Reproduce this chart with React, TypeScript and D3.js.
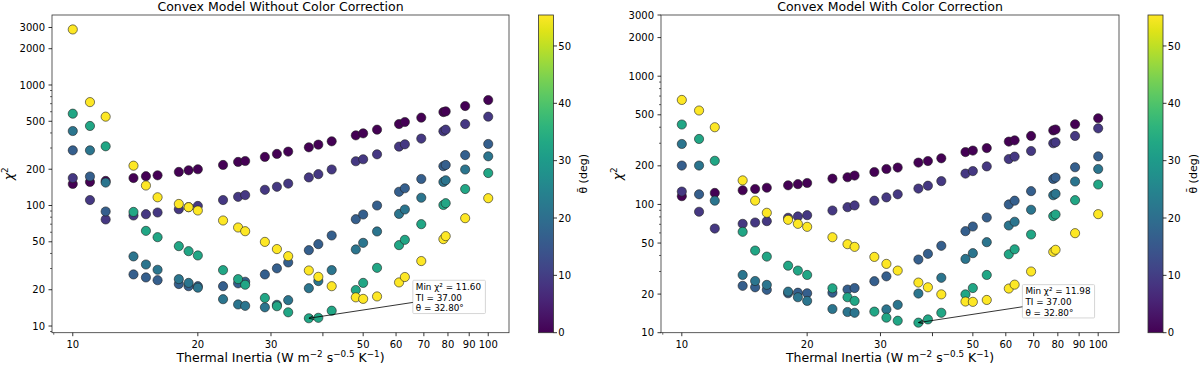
import React, { useRef, useEffect } from 'react';
import * as d3 from 'd3';

// Thermal inertia grid (W m^-2 s^-0.5 K^-1)
const TI = [10, 11, 12, 14, 15, 16, 18, 19, 20, 23, 25, 26, 29, 31, 33, 37, 39, 42, 48, 50, 54, 61, 63, 69, 78, 79, 88, 100];

// mean obliquity of each run (deg)
const THETAS = [0, 9, 16.5, 21.5, 32.8, 55.4];

// chi^2 without color correction, one array per theta
const woTheta0 = [151, 157, 160, 169, 175, 178, 190, 196, 200, 217, 230, 234, 253, 268, 280, 304, 320, 341, 382, 397, 426, 474, 493, 536, 596, 604, 669, 750];
const woTheta9 = [169, 111, 76.6, 82.6, 84.7, 87.5, 93.2, 97, 99.2, 111, 118, 122, 135, 143, 152, 171, 182, 199, 233, 242, 266, 308, 322, 359, 413, 426, 474, 546];
const woTheta16 = [287, 174, 89.2, 26.8, 25.3, 24.0, 22.3, 21.4, 21.4, 21.4, 22.6, 23.3, 26.8, 30.1, 33.7, 42.6, 47.8, 56.4, 77.0, 84.2, 100, 130, 139, 166, 212, 217, 262, 324];
const woTheta21 = [415, 287, 155, 37.8, 32.4, 29.3, 24.5, 22.8, 20.8, 16.7, 15.1, 14.7, 14.3, 15.0, 16.4, 20.6, 23.6, 29.1, 43.2, 49.0, 60.9, 85.2, 92.7, 116, 157, 162, 199, 256];
const woTheta33 = [578, 457, 310, 88.5, 61.6, 54.6, 46.0, 41.8, 38.5, 29.1, 24.5, 22.0, 17.1, 14.6, 13.0, 11.6, 11.7, 13.4, 19.9, 22.8, 30.4, 46.9, 51.9, 70.0, 101, 104.5, 137, 186];
const woTheta55 = [2890, 721, 546, 214, 146.5, 117, 103, 96.8, 90.9, 75.1, 65.7, 61.2, 49.9, 43.5, 38.0, 28.9, 25.6, 21.4, 17.3, 16.8, 17.6, 23.0, 25.5, 34.6, 52.6, 55.7, 78.5, 115];

// chi^2 with color correction (null = hidden under another marker)
const wcTheta0 = [116, null, 123, 129, 132, 135, 141, 144, 147, 159, 163, 168, 179, 189, 194, 212, 218, 229, 256, 263, 275, 309, 316, 342, 378, 384, 422, 470];
const wcTheta9 = [126, 87.7, 64.9, 70.6, 72.3, 74.1, 78.7, 80.6, 82.5, 89.7, 95.2, 98.2, 107, 113.5, 120, 133, 140, 152, 174, 182, 198, 226, 236, 261, 300, 305, 342, 392];
const wcTheta16 = [201, 120, null, 23.2, 22.6, 21.6, 20.3, 20.5, 20.3, 20.5, 21.7, 22.3, 25.2, 27.5, null, 37.2, 41.2, 47.6, 61.9, 67.3, 79.1, 100, 107, 127, 158, 162, 195, 237];
const wcTheta21 = [296, 201, 107, 28.2, 25.3, 23.6, 20.9, 18.9, 17.7, 15.3, 14.5, 14.3, null, 15.2, 16.5, 20.2, null, 26.8, 37.6, 41.7, 50.8, 68.5, 73.3, 90.9, 118, 121, 151, 189];
const wcTheta33 = [420, 324, 219, 61.2, 43.7, 39.2, 33.3, 30.5, 28.2, 22.2, 18.9, 17.7, 14.6, 13.1, 12.4, 11.98, 12.7, 14.3, 19.9, 22.3, 28.2, 40.9, 44.7, 58.3, 81.1, 83.5, 108, 143];
const wcTheta55 = [653, 540, 400, 154, 107, 86.1, 75.9, 70.6, 66.9, 55.5, 49.0, 46.7, 39.0, 34.4, 30.5, 24.6, 22.6, 19.9, 17.5, 17.4, 18.0, 22.1, 23.7, 30.0, 42.7, 44.3, 59.7, 84.0];

const X_TICKS = [10, 20, 30, 40, 50, 60, 70, 80, 90, 100];
const X_LABELED = [10, 20, 30, 50, 60, 70, 80, 90, 100];
const Y_TICKS = [10, 20, 50, 100, 200, 500, 1000, 2000, 3000];
const CB_TICKS = [0, 10, 20, 30, 40, 50];

const PANELS = [
  {
    title: 'Convex Model Without Color Correction',
    series: [woTheta0, woTheta9, woTheta16, woTheta21, woTheta33, woTheta55],
    yFixed: null,
    left: 52, right: 509, cbLeft: 538.5,
  },
  {
    title: 'Convex Model With Color Correction',
    series: [wcTheta0, wcTheta9, wcTheta16, wcTheta21, wcTheta33, wcTheta55],
    yFixed: [10, 3000],
    left: 661, right: 1119, cbLeft: 1148,
  },
];

const TOP = 15;
const BOTTOM = 332.7;
const FONT = 'DejaVu Sans';

// matplotlib-like 5% margin in log space
function logPad(lo: number, hi: number) {
  const a = Math.log10(lo), b = Math.log10(hi);
  const m = (b - a) * 0.05;
  return [10 ** (a - m), 10 ** (b + m)];
}

const App = () => {
  const svgRef = useRef<SVGSVGElement>(null);

  useEffect(() => {
    const svg = d3.select(svgRef.current);
    svg.selectAll('*').remove();
    const defs = svg.append('defs');

    const thetaExtent = d3.extent(THETAS) as [number, number];
    const color = d3.scaleSequential(d3.interpolateViridis).domain(thetaExtent);

    defs.append('marker')
      .attr('id', 'arrowhead')
      .attr('viewBox', '0 -5 10 10')
      .attr('refX', 10)
      .attr('refY', 0)
      .attr('markerWidth', 5)
      .attr('markerHeight', 5)
      .attr('markerUnits', 'userSpaceOnUse')
      .attr('orient', 'auto')
      .append('path')
      .attr('d', 'M0,-4L10,0L0,4')
      .attr('fill', 'none')
      .attr('stroke', '#000')
      .attr('stroke-width', 1.4);

    PANELS.forEach((p, pi) => {
      const g = svg.append('g');

      const x = d3.scaleLog().domain(logPad(d3.min(TI)!, d3.max(TI)!)).range([p.left, p.right]);
      const allVals = p.series.flat().filter(v => v != null) as number[];
      const yDom = p.yFixed ?? logPad(d3.min(allVals)!, d3.max(allVals)!);
      const y = d3.scaleLog().domain(yDom).range([BOTTOM, TOP]);

      // points
      p.series.forEach((vals, si) => {
        const pts = TI.map((t, i) => ({ t, v: vals[i] })).filter(d => d.v != null) as { t: number; v: number }[];
        g.append('g')
          .selectAll('circle')
          .data(pts)
          .join('circle')
          .attr('cx', d => x(d.t))
          .attr('cy', d => y(d.v))
          .attr('r', 4.6)
          .attr('fill', color(THETAS[si]))
          .attr('stroke', '#222')
          .attr('stroke-width', 0.6);
      });

      // frame
      g.append('rect')
        .attr('x', p.left).attr('y', TOP)
        .attr('width', p.right - p.left).attr('height', BOTTOM - TOP)
        .attr('fill', 'none').attr('stroke', '#333').attr('stroke-width', 0.8);

      // x ticks
      const [xd0, xd1] = x.domain();
      const xMinor = [9].filter(v => v >= xd0 && v <= xd1);
      X_TICKS.forEach(t => {
        g.append('line').attr('x1', x(t)).attr('x2', x(t)).attr('y1', BOTTOM).attr('y2', BOTTOM + 3.5)
          .attr('stroke', '#000').attr('stroke-width', 0.8);
      });
      xMinor.forEach(t => {
        g.append('line').attr('x1', x(t)).attr('x2', x(t)).attr('y1', BOTTOM).attr('y2', BOTTOM + 2)
          .attr('stroke', '#000').attr('stroke-width', 0.6);
      });
      X_LABELED.forEach(t => {
        g.append('text').attr('x', x(t)).attr('y', BOTTOM + 15.3)
          .attr('text-anchor', 'middle').attr('font-size', 10).attr('font-family', FONT)
          .text(t);
      });

      // y ticks
      const [yd0, yd1] = y.domain();
      const yMinor: number[] = [];
      [1, 10, 100, 1000].forEach(dec => {
        for (let k = 2; k <= 9; k++) {
          const v = k * dec;
          if (v >= yd0 * 0.999 && v <= yd1 * 1.001 && !Y_TICKS.includes(v)) yMinor.push(v);
        }
      });
      Y_TICKS.forEach(t => {
        g.append('line').attr('x1', p.left - 3.5).attr('x2', p.left).attr('y1', y(t)).attr('y2', y(t))
          .attr('stroke', '#000').attr('stroke-width', 0.8);
        g.append('text').attr('x', p.left - 7).attr('y', y(t)).attr('dy', '0.36em')
          .attr('text-anchor', 'end').attr('font-size', 10).attr('font-family', FONT)
          .text(t);
      });
      yMinor.forEach(t => {
        g.append('line').attr('x1', p.left - 2).attr('x2', p.left).attr('y1', y(t)).attr('y2', y(t))
          .attr('stroke', '#000').attr('stroke-width', 0.6);
      });

      // title
      g.append('text').attr('x', (p.left + p.right) / 2).attr('y', 10.5)
        .attr('text-anchor', 'middle').attr('font-size', 12.5).attr('font-family', FONT)
        .text(p.title);

      // x label
      const xl = g.append('text').attr('x', (p.left + p.right) / 2).attr('y', 362)
        .attr('text-anchor', 'middle').attr('font-size', 12.5).attr('font-family', FONT);
      xl.append('tspan').text('Thermal Inertia (W m');
      xl.append('tspan').attr('dy', -5).attr('font-size', 8.8).text('−2');
      xl.append('tspan').attr('dy', 5).text(' s');
      xl.append('tspan').attr('dy', -5).attr('font-size', 8.8).text('−0.5');
      xl.append('tspan').attr('dy', 5).text(' K');
      xl.append('tspan').attr('dy', -5).attr('font-size', 8.8).text('−1');
      xl.append('tspan').attr('dy', 5).text(')');

      // y label
      const yl = g.append('text')
        .attr('transform', `translate(${p.left - 39},${(TOP + BOTTOM) / 2}) rotate(-90)`)
        .attr('text-anchor', 'middle').attr('font-size', 12.5).attr('font-family', FONT);
      yl.append('tspan').attr('font-style', 'italic').text('χ');
      yl.append('tspan').attr('dy', -5).attr('font-size', 8.8).text('2');

      // colorbar
      const cbW = 15;
      const cb = d3.scaleLinear().domain(thetaExtent).range([BOTTOM, TOP]);
      const gradId = `viridis-${pi}`;
      const grad = defs.append('linearGradient').attr('id', gradId)
        .attr('x1', 0).attr('x2', 0).attr('y1', 1).attr('y2', 0);
      d3.range(0, 1.0001, 0.05).forEach(s => {
        grad.append('stop').attr('offset', s).attr('stop-color', d3.interpolateViridis(s));
      });
      g.append('rect').attr('x', p.cbLeft).attr('y', TOP).attr('width', cbW).attr('height', BOTTOM - TOP)
        .attr('fill', `url(#${gradId})`).attr('stroke', '#333').attr('stroke-width', 0.8);
      CB_TICKS.forEach(t => {
        g.append('line').attr('x1', p.cbLeft + cbW).attr('x2', p.cbLeft + cbW + 3.5)
          .attr('y1', cb(t)).attr('y2', cb(t)).attr('stroke', '#000').attr('stroke-width', 0.8);
        g.append('text').attr('x', p.cbLeft + cbW + 4.8).attr('y', cb(t)).attr('dy', '0.36em')
          .attr('font-size', 10).attr('font-family', FONT).text(t);
      });
      g.append('text')
        .attr('transform', `translate(${p.cbLeft + cbW + 30},${(TOP + BOTTOM) / 2}) rotate(-90)`)
        .attr('text-anchor', 'middle').attr('dominant-baseline', 'central')
        .attr('font-size', 11).attr('font-family', FONT)
        .text('θ\u0304 (deg)');

      // annotation of the minimum
      let best = { v: Infinity, t: 0, th: 0 };
      p.series.forEach((vals, si) => vals.forEach((v, i) => {
        if (v != null && v < best.v) best = { v, t: TI[i], th: THETAS[si] };
      }));
      const px = x(best.t), py = y(best.v);
      const ann = g.append('g');
      const boxX = px + 104, boxY = py - 38;
      const lines = [`Min χ² = ${best.v.toFixed(2)}`, `TI = ${best.t.toFixed(2)}`, `θ = ${best.th.toFixed(2)}°`];
      const txt = ann.append('text').attr('font-size', 8.8).attr('font-family', FONT);
      lines.forEach((l, i) => {
        txt.append('tspan').attr('x', boxX + 3).attr('y', boxY + 9.6 + i * 10.8).text(l);
      });
      const bb = (txt.node() as SVGTextElement).getBBox();
      const bw = bb.width + 6, bh = 33.3;
      ann.insert('rect', 'text').attr('x', boxX).attr('y', boxY).attr('width', bw).attr('height', bh)
        .attr('fill', '#fff').attr('fill-opacity', 0.9).attr('stroke', '#ccc').attr('stroke-width', 0.8).attr('rx', 1);
      // arrow from the box edge to the point
      const cx = boxX + bw / 2, cy = boxY + bh / 2;
      const sx = boxX, sy = cy + (py - cy) * (cx - boxX) / (cx - px);
      ann.append('line').attr('x1', sx).attr('y1', sy).attr('x2', px).attr('y2', py)
        .attr('stroke', '#000').attr('stroke-width', 0.8).attr('marker-end', 'url(#arrowhead)');
    });
  }, []);

  return (
    <svg ref={svgRef} width={1200} height={366}
      style={{ position: 'absolute', left: 0, top: 0, background: '#fff' }} />
  );
};

export default App;
